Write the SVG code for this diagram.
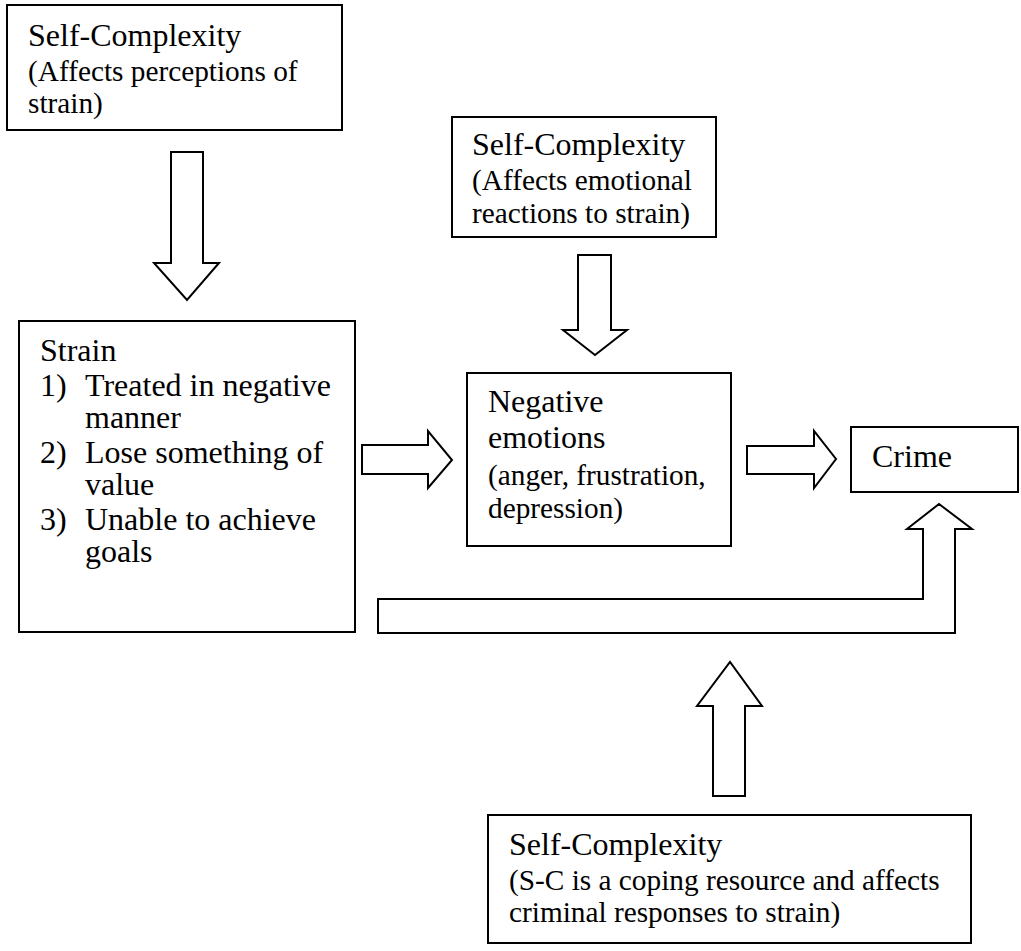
<svg xmlns="http://www.w3.org/2000/svg" width="1021" height="951" viewBox="0 0 1021 951">
<style>
.box{fill:#fff;stroke:#000;stroke-width:2}
.arr{fill:#fff;stroke:#000;stroke-width:2;stroke-linejoin:miter}
.t{font-size:32px}
.s{font-size:29.3px}
</style>
<rect width="1021" height="951" fill="#fff"/>
<g id="connectors">
<polygon class="arr" points="171,152 203,152 203,263 219,263 187,300 154,263 171,263"/>
<polygon class="arr" points="578,255 611,255 611,330 627,330 595,355 563,330 578,330"/>
<polygon class="arr" points="362,445 428,445 428,431 452,460 428,488 428,474 362,474"/>
<polygon class="arr" points="747,446 814,446 814,431 836,459 814,488 814,474 747,474"/>
<polygon class="arr" points="378,599 923,599 923,529 907,529 939,504 972,529 955,529 955,633 378,633"/>
<polygon class="arr" points="713,796 713,706 697,706 730,662 762,706 745,706 745,796"/>
</g>
<g font-family="Liberation Serif, Tinos, DejaVu Serif, serif" fill="#000">
<g id="sc-perceptions">
<rect class="box" x="7" y="5" width="335" height="125"/>
<text class="t" x="28" y="46">Self-Complexity</text>
<text class="s" x="28" y="81">(Affects perceptions of</text>
<text class="s" x="28" y="113">strain)</text>
</g>
<g id="sc-emotional">
<rect class="box" x="452" y="117" width="264" height="120"/>
<text class="t" x="472" y="155">Self-Complexity</text>
<text class="s" x="472" y="190">(Affects emotional</text>
<text class="s" x="472" y="223">reactions to strain)</text>
</g>
<g id="strain">
<rect class="box" x="19" y="321" width="336" height="311"/>
<text class="t" x="40" y="361">Strain</text>
<text class="t" x="40" y="396">1)</text>
<text class="t" x="85" y="396">Treated in negative</text>
<text class="t" x="85" y="428">manner</text>
<text class="t" x="40" y="463">2)</text>
<text class="t" x="85" y="463">Lose something of</text>
<text class="t" x="85" y="495">value</text>
<text class="t" x="40" y="530">3)</text>
<text class="t" x="85" y="530">Unable to achieve</text>
<text class="t" x="85" y="562">goals</text>
</g>
<g id="negative-emotions">
<rect class="box" x="467" y="373" width="264" height="173"/>
<text class="t" x="488" y="412">Negative</text>
<text class="t" x="488" y="448">emotions</text>
<text class="s" x="488" y="485">(anger, frustration,</text>
<text class="s" x="488" y="518">depression)</text>
</g>
<g id="crime">
<rect class="box" x="851" y="427" width="167" height="65"/>
<text class="t" x="872" y="467">Crime</text>
</g>
<g id="sc-coping">
<rect class="box" x="488" y="815" width="483" height="128"/>
<text class="t" x="509" y="855">Self-Complexity</text>
<text class="s" x="509" y="890">(S-C is a coping resource and affects</text>
<text class="s" x="509" y="922">criminal responses to strain)</text>
</g>
</g>
</svg>
